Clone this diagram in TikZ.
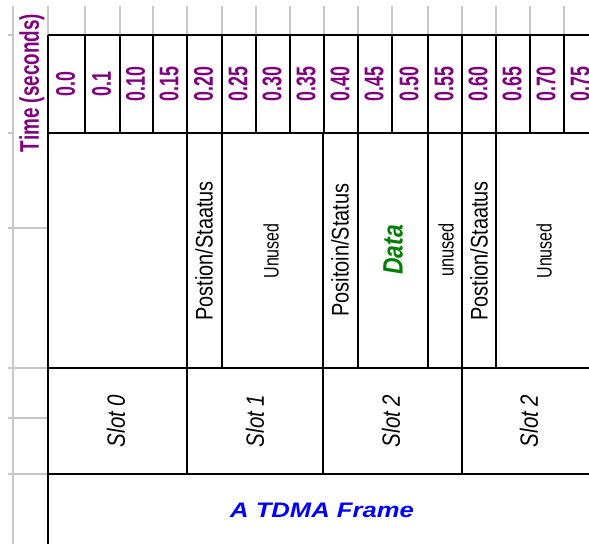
\documentclass[tikz,border=0pt]{standalone}
\usepackage{fontspec}
\setmainfont{Liberation Sans}
\usepackage{graphicx}
\definecolor{tpurple}{RGB}{128,0,128}
\definecolor{tgreen}{RGB}{0,128,0}
\definecolor{tblue}{RGB}{0,0,255}
\definecolor{gridgray}{RGB}{200,200,200}
\newcommand{\cnd}[2]{\scalebox{#1}[1]{#2}}
\begin{document}
\begin{tikzpicture}[x=1pt,y=-1pt,
  gridln/.style={draw=gridgray, line width=1.5pt},
  thinln/.style={draw=black, line width=1.4pt},
  thickln/.style={draw=black, line width=2.8pt},
  hdr/.style={text=tpurple, font=\bfseries\fontsize{27}{27}\selectfont, rotate=90, inner sep=0pt},
  axislbl/.style={text=tpurple, font=\bfseries\fontsize{27}{27}\selectfont, rotate=90, inner sep=0pt},
  lbl/.style={font=\fontsize{24}{24}\selectfont, rotate=90, inner sep=0pt},
  lbltwo/.style={font=\fontsize{21}{21}\selectfont, rotate=90, inner sep=0pt},
  datalbl/.style={text=tgreen, font=\bfseries\itshape\fontsize{28}{28}\selectfont, rotate=90, inner sep=0pt},
  slotlbl/.style={font=\itshape\fontsize{25}{25}\selectfont, rotate=90, inner sep=0pt},
  framelbl/.style={text=tblue, font=\bfseries\itshape\fontsize{21}{21}\selectfont, inner sep=0pt}
]
\useasboundingbox (0,0) rectangle (589,544);
\clip (0,0) rectangle (589,544);
\fill[white] (0,0) rectangle (589,544);

% spreadsheet grid (gray)
\draw[gridln] (13,6) -- (13,544);
\foreach \x in {48,85,120,153,187,222,256,290,324,358,392,428,462,496,530,564}
  \draw[gridln] (\x,6) -- (\x,35);
\draw[gridln] (8,35) -- (13,35);
\draw[gridln] (8,133) -- (13,133);
\foreach \y in {228,368,418,474}
  \draw[gridln] (8,\y) -- (48,\y);

% header row
\draw[thinln] (48,35) -- (600,35);
\foreach \x in {48,85,120,153,187,222,256,290,324,358,392,428,462,496,530,564}
  \draw[thinln] (\x,35) -- (\x,133);

% body dividers
\foreach \x in {222,358,428,496}
  \draw[thinln] (\x,133) -- (\x,368);
\foreach \x in {187,323,462}
  \draw[thinln] (\x,133) -- (\x,474);
\draw[thinln] (48,368) -- (600,368);
\draw[thinln] (48,474) -- (48,544);

% thick frame lines
\draw[thickln] (46.6,133) -- (600,133);
\draw[thickln] (48,133) -- (48,475.4);
\draw[thickln] (46.6,474) -- (600,474);

% header labels
\foreach \xc/\t [count=\i] in {66.5/0.0,102.5/0.1,136.5/0.10,170/0.15,204.5/0.20,239/0.25,273/0.30,307/0.35,341/0.40,375/0.45,410/0.50,445/0.55,479/0.60,513/0.65,547/0.70,581/0.75}
  \node[hdr] (h\i) at (\xc-1,84) {\cnd{0.66}{\t}};

\node[axislbl] (axis) at (32,83) {\cnd{0.70}{Time (seconds)}};

% middle row labels
\node[lbl] (ps1) at (204,251) {\cnd{0.83}{Postion/Staatus}};
\node[lbltwo] (un1) at (271,251) {\cnd{0.76}{Unused}};
\node[lbl] (ps2) at (340,250) {\cnd{0.83}{Positoin/Status}};
\node[datalbl] (dat) at (393,250) {\cnd{0.82}{Data}};
\node[lbltwo] (un2) at (446,250) {\cnd{0.78}{unused}};
\node[lbl] (ps3) at (479,251) {\cnd{0.83}{Postion/Staatus}};
\node[lbltwo] (un3) at (544,251) {\cnd{0.76}{Unused}};

% slot labels
\node[slotlbl] (s0) at (116,421) {\cnd{0.82}{Slot 0}};
\node[slotlbl] (s1) at (255,421) {\cnd{0.82}{Slot 1}};
\node[slotlbl] (s2) at (391,421) {\cnd{0.82}{Slot 2}};
\node[slotlbl] (s3) at (529,421) {\cnd{0.82}{Slot 2}};

\node[framelbl] (frame) at (322,510) {\cnd{1.22}{A TDMA Frame}};
\end{tikzpicture}
\end{document}
